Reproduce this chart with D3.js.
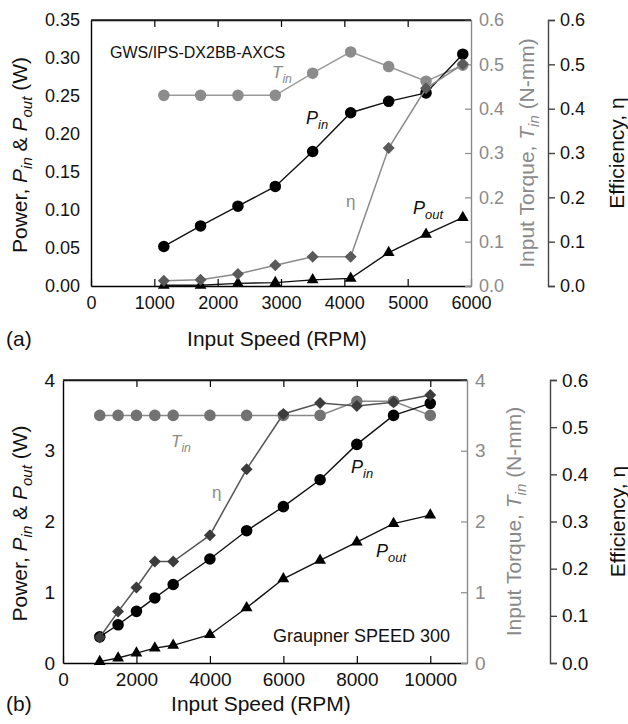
<!DOCTYPE html>
<html>
<head>
<meta charset="utf-8">
<script src="https://cdn.jsdelivr.net/npm/d3@7"></script>
<style>
  body { margin: 0; background: #fff; }
  text { font-family: "Liberation Sans", Arial, Helvetica, sans-serif; }
</style>
</head>
<body>
<div id="chart"></div>
<script>
// ---- data, panel (a): GWS/IPS-DX2BB-AXCS
var speedA = [1150, 1730, 2320, 2910, 3500, 4100, 4700, 5290, 5870];
var pinA = [0.052, 0.079, 0.105, 0.131, 0.177, 0.228, 0.243, 0.254, 0.305];
var poutA = [0.001, 0.001, 0.0035, 0.0045, 0.008, 0.010, 0.044, 0.068, 0.090];
var etaA = [0.012, 0.014, 0.027, 0.047, 0.066, 0.066, 0.311, 0.446, 0.500];
var tinA = [0.43, 0.43, 0.43, 0.43, 0.48, 0.528, 0.495, 0.462, 0.498];

// ---- data, panel (b): Graupner SPEED 300
var speedB = [1000, 1500, 2000, 2500, 3000, 4000, 5000, 6000, 7000, 8000, 9000, 10000];
var pinB = [0.37, 0.54, 0.73, 0.92, 1.11, 1.47, 1.87, 2.21, 2.59, 3.09, 3.50, 3.67];
var poutB = [0.02, 0.07, 0.14, 0.21, 0.25, 0.40, 0.78, 1.19, 1.45, 1.71, 1.97, 2.09];
var etaB = [0.054, 0.109, 0.160, 0.215, 0.215, 0.271, 0.411, 0.528, 0.551, 0.545, 0.553, 0.568];
var tinB = [3.5, 3.5, 3.5, 3.5, 3.5, 3.5, 3.5, 3.5, 3.5, 3.7, 3.7, 3.5];

// ---- axis ticks
var xTicksA = [0, 1000, 2000, 3000, 4000, 5000, 6000];
var yTicksA = [0, 0.05, 0.10, 0.15, 0.20, 0.25, 0.30, 0.35];
var tTicksA = [0, 0.1, 0.2, 0.3, 0.4, 0.5, 0.6];
var xTicksB = [0, 2000, 4000, 6000, 8000, 10000];
var yTicksB = [0, 1, 2, 3, 4];
var tTicksB = [0, 1, 2, 3, 4];
var effTicks = [0, 0.1, 0.2, 0.3, 0.4, 0.5, 0.6];

var svg = d3.select("#chart")
    .append("svg")
    .attr("width", 628)
    .attr("height", 724);

// writes "P" + subscript into a text element as tspans
function addParts(textSel, parts, subSize) {
    parts.forEach(function(p) {
        var t = textSel.append("tspan").text(p.t);
        if (p.i) t.style("font-style", "italic");
        if (p.sub) {
            t.attr("dy", 5).style("font-size", subSize + "px");
        }
        if (p.up) t.attr("dy", -5);
    });
}

function drawPanel(o) {
    var x = d3.scaleLinear().domain(o.xDomain).range([o.left, o.right]);
    var y = d3.scaleLinear().domain(o.yDomain).range([o.bottom, o.top]);
    var yT = d3.scaleLinear().domain(o.tDomain).range([o.bottom, o.top]);
    var yE = d3.scaleLinear().domain([0, 0.6]).range([o.bottom, o.top]);

    var g = svg.append("g");

    // bottom axis, ticks pointing in
    var xAxis = g.append("g")
        .attr("transform", `translate(0, ${o.bottom})`)
        .call(d3.axisBottom(x).tickValues(o.xTicks).tickFormat(d3.format("d"))
            .tickSize(-7).tickSizeOuter(0).tickPadding(10));
    xAxis.selectAll("text").style("font-size", o.tickFont + "px").attr("fill", "#111");

    // mirrored ticks on top edge
    g.append("g")
        .attr("transform", `translate(0, ${o.top})`)
        .call(d3.axisTop(x).tickValues(o.xTicks.filter(function(d) { return d > o.xDomain[0] && d < o.xDomain[1]; }))
            .tickSize(-7).tickSizeOuter(0).tickFormat(""));

    // left axis
    var yAxis = g.append("g")
        .attr("transform", `translate(${o.left}, 0)`)
        .call(d3.axisLeft(y).tickValues(o.yTicks).tickFormat(d3.format(o.yFormat))
            .tickSize(0).tickPadding(o.leftPad));
    yAxis.selectAll("text").style("font-size", o.tickFont + "px").attr("fill", "#111");

    // right (torque) axis, grey
    var tAxis = g.append("g")
        .attr("transform", `translate(${o.right}, 0)`)
        .call(d3.axisRight(yT).tickValues(o.tTicks).tickFormat(d3.format(o.tFormat))
            .tickSize(-6).tickSizeOuter(0).tickPadding(8));
    tAxis.selectAll("text").style("font-size", o.tickFont + "px").attr("fill", "#8a8a8a");
    tAxis.selectAll("line, path").attr("stroke", "#8a8a8a");

    // frame lines
    g.selectAll("path.domain").attr("stroke-width", 1.4);
    g.append("line").attr("x1", o.left).attr("x2", o.right).attr("y1", o.top).attr("y2", o.top)
        .attr("stroke", "#222").attr("stroke-width", 1.4);
    g.selectAll(".tick line").attr("stroke-width", 1.2);

    // separate efficiency axis
    var eAxis = g.append("g")
        .attr("transform", `translate(${o.effX}, 0)`)
        .call(d3.axisRight(yE).tickValues(effTicks).tickFormat(d3.format(".1f"))
            .tickSize(7).tickSizeOuter(7).tickPadding(5));
    eAxis.selectAll("text").style("font-size", o.tickFont + "px").attr("fill", "#111");
    eAxis.selectAll("line, path").attr("stroke", "#444").attr("stroke-width", 1.4);

    // series: torque, input power, output power, efficiency
    var line = d3.line();
    function series(xs, ys, scale, lineColor, lineW, markColor, sym, size, rot) {
        var pts = xs.map(function(v, i) { return [x(v), scale(ys[i])]; });
        g.append("path")
            .attr("d", line(pts))
            .attr("fill", "none")
            .attr("stroke", lineColor)
            .attr("stroke-width", lineW);
        g.selectAll(null)
            .data(pts)
            .enter()
            .append("path")
            .attr("d", d3.symbol().type(sym).size(size))
            .attr("transform", d => `translate(${d[0]}, ${d[1]}) rotate(${rot})`)
            .attr("fill", markColor);
    }
    series(o.speed, o.tin, yT, o.tinLine, 1.5, o.tinMark, d3.symbolCircle, 105, 0);
    series(o.speed, o.pin, y, "#111", 1.4, "#000", d3.symbolCircle, 105, 0);
    series(o.speed, o.pout, y, "#111", 1.4, "#000", d3.symbolTriangle, 60, 0);
    series(o.speed, o.eta, yE, o.etaLine, 1.5, o.etaMark, d3.symbolSquare, 72, 45);

    // axis titles
    g.append("text")
        .attr("x", (o.left + o.right) / 2 - 4)
        .attr("y", o.xTitleY)
        .attr("text-anchor", "middle")
        .style("font-size", "21px")
        .attr("fill", "#111")
        .text("Input Speed (RPM)");

    g.append("text")
        .attr("x", 6)
        .attr("y", o.xTitleY)
        .style("font-size", "21px")
        .attr("fill", "#111")
        .text(o.tag);

    var pt = g.append("text")
        .attr("transform", `translate(${o.powerX}, ${(o.top + o.bottom) / 2 + 2}) rotate(-90)`)
        .attr("text-anchor", "middle")
        .style("font-size", "21px")
        .attr("fill", "#111");
    addParts(pt, [{t: "Power, "}, {t: "P", i: true}, {t: "in", i: true, sub: true},
        {t: " & ", up: true}, {t: "P", i: true}, {t: "out", i: true, sub: true}, {t: " (W)", up: true}], 15);

    var tt = g.append("text")
        .attr("transform", `translate(${o.torqueX}, ${(o.top + o.bottom) / 2}) rotate(-90)`)
        .attr("text-anchor", "middle")
        .style("font-size", "21px")
        .attr("fill", "#8a8a8a");
    addParts(tt, [{t: "Input Torque, "}, {t: "T", i: true}, {t: "in", i: true, sub: true},
        {t: " (N-mm)", up: true}], 15);

    g.append("text")
        .attr("transform", `translate(${o.effTitleX}, ${(o.top + o.bottom) / 2}) rotate(-90)`)
        .attr("text-anchor", "middle")
        .style("font-size", "21px")
        .attr("fill", "#111")
        .text("Efficiency, \u03b7");

    // in-plot annotations
    o.notes.forEach(function(n) {
        var t = g.append("text")
            .attr("x", n.x).attr("y", n.y)
            .attr("text-anchor", n.anchor || "start")
            .style("font-size", n.size + "px")
            .attr("fill", n.color);
        if (n.parts) addParts(t, n.parts, n.size * 0.72);
        else t.text(n.text);
    });
}

// panel (a)
drawPanel({
    left: 91, right: 471, top: 20, bottom: 286,
    xDomain: [0, 6000], yDomain: [0, 0.35], tDomain: [0, 0.6],
    xTicks: xTicksA, yTicks: yTicksA, tTicks: tTicksA,
    yFormat: ".2f", tFormat: ".1f", leftPad: 11, tickFont: 18,
    effX: 548, xTitleY: 346, tag: "(a)",
    powerX: 27, torqueX: 534, effTitleX: 624,
    speed: speedA, pin: pinA, pout: poutA, eta: etaA, tin: tinA,
    tinLine: "#9a9a9a", tinMark: "#8c8c8c", etaLine: "#8a8a8a", etaMark: "#5a5a5a",
    notes: [
        {x: 110, y: 58, size: 16, color: "#111", text: "GWS/IPS-DX2BB-AXCS"},
        {x: 272, y: 78, size: 17, color: "#8a8a8a", parts: [{t: "T", i: true}, {t: "in", i: true, sub: true}]},
        {x: 306, y: 124, size: 18, color: "#111", parts: [{t: "P", i: true}, {t: "in", i: true, sub: true}]},
        {x: 346, y: 207, size: 17, color: "#8a8a8a", text: "\u03b7"},
        {x: 413, y: 214, size: 18, color: "#111", parts: [{t: "P", i: true}, {t: "out", i: true, sub: true}]}
    ]
});

// panel (b)
drawPanel({
    left: 63, right: 467, top: 380, bottom: 663,
    xDomain: [0, 11000], yDomain: [0, 4], tDomain: [0, 4],
    xTicks: xTicksB, yTicks: yTicksB, tTicks: tTicksB,
    yFormat: "d", tFormat: "d", leftPad: 8, tickFont: 19,
    effX: 550, xTitleY: 711, tag: "(b)",
    powerX: 27, torqueX: 521, effTitleX: 625,
    speed: speedB, pin: pinB, pout: poutB, eta: etaB, tin: tinB,
    tinLine: "#888", tinMark: "#727272", etaLine: "#555", etaMark: "#3c3c3c",
    notes: [
        {x: 450, y: 642, size: 18, color: "#111", anchor: "end", text: "Graupner SPEED 300"},
        {x: 171, y: 447, size: 17, color: "#8a8a8a", parts: [{t: "T", i: true}, {t: "in", i: true, sub: true}]},
        {x: 212, y: 498, size: 17, color: "#8a8a8a", text: "\u03b7"},
        {x: 351, y: 473, size: 18, color: "#111", parts: [{t: "P", i: true}, {t: "in", i: true, sub: true}]},
        {x: 376, y: 557, size: 18, color: "#111", parts: [{t: "P", i: true}, {t: "out", i: true, sub: true}]}
    ]
});
</script>
</body>
</html>
